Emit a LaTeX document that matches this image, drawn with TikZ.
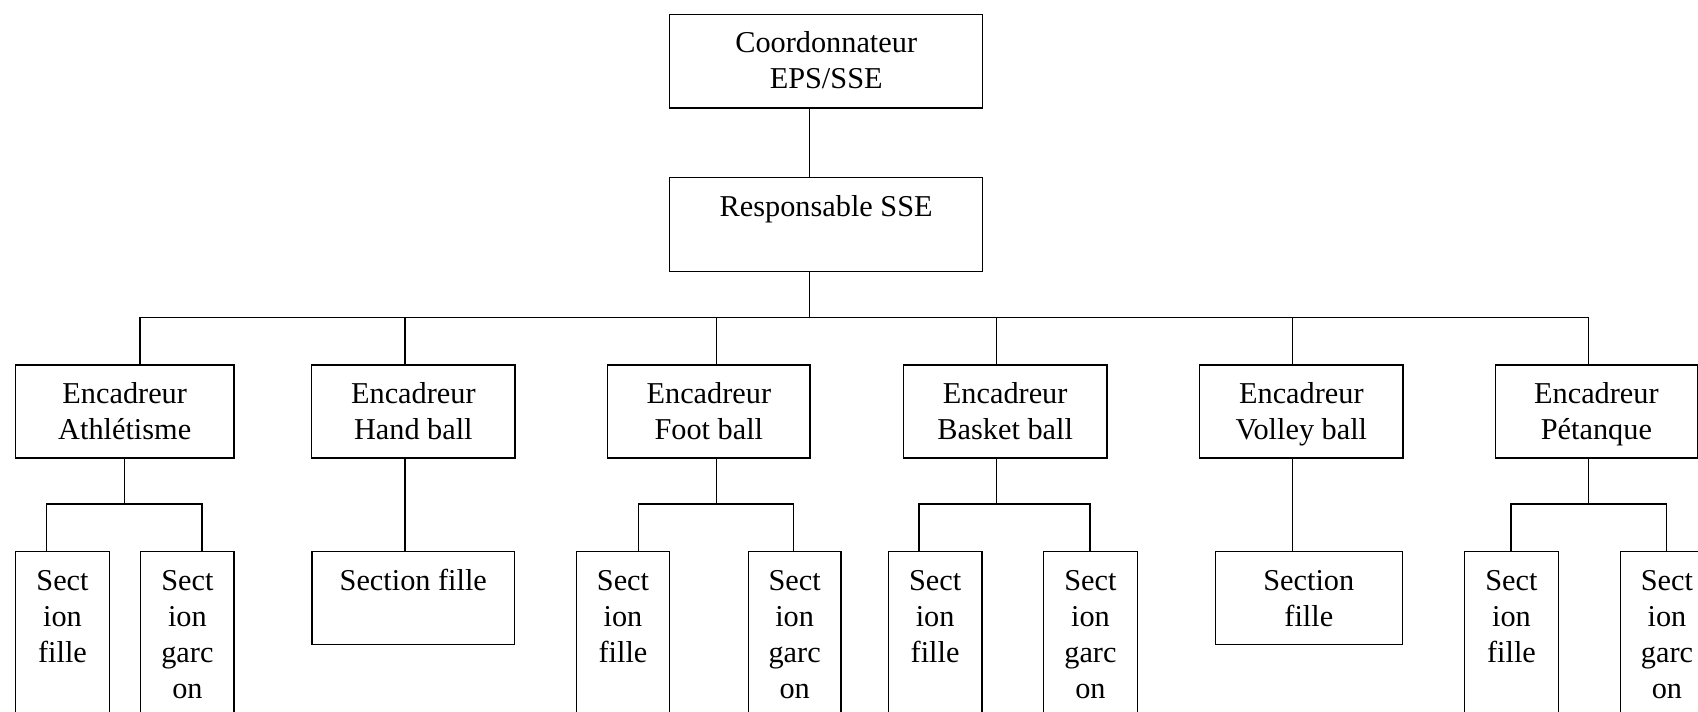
\documentclass[tikz,border=0pt]{standalone}
\usepackage{fontspec}
\setmainfont{Liberation Serif}

% text of a box: fixed width and height, lines centred, first baseline near the top
\newcommand\boxtxt[3]{\parbox[t][#2][t]{#1}{\centering\rule{0pt}{19.25pt}#3}}

\begin{document}
\begin{tikzpicture}[x=0.5pt,y=-0.5pt,
  orgbox/.style={draw=black, line width=0.7pt, inner sep=0pt, anchor=north west,
    font=\fontsize{15.15}{18}\selectfont},
  link/.style={draw=black, line width=0.7pt}]

\clip (0,0) rectangle (1698,712);
\fill[white] (0,0) rectangle (1698,712);

% top of the chart
\node[orgbox] (coord) at (669,13.7) {\boxtxt{156.5pt}{46.8pt}{Coordonnateur\\EPS/SSE}};
\node[orgbox] (resp)  at (669,177)  {\boxtxt{156.5pt}{46.85pt}{Responsable SSE}};

% one box per sport
\node[orgbox] (athl) at (14.7,364.3)  {\boxtxt{109.3pt}{46.5pt}{Encadreur\\Athlétisme}};
\node[orgbox] (hand) at (311,364.3)   {\boxtxt{101.65pt}{46.5pt}{Encadreur\\Hand ball}};
\node[orgbox] (foot) at (607,364.3)   {\boxtxt{101.15pt}{46.5pt}{Encadreur\\Foot ball}};
\node[orgbox] (bask) at (902.7,364.3) {\boxtxt{101.8pt}{46.5pt}{Encadreur\\Basket ball}};
\node[orgbox] (voll) at (1199,364.3)  {\boxtxt{101.65pt}{46.5pt}{Encadreur\\Volley ball}};
\node[orgbox] (peta) at (1494.7,364.3){\boxtxt{101pt}{46.5pt}{Encadreur\\Pétanque}};

% sections
\node[orgbox] (athlF) at (14.9,551)   {\boxtxt{46.9pt}{100pt}{Sect\\ion\\fille}};
\node[orgbox] (athlG) at (140,551)    {\boxtxt{46.7pt}{100pt}{Sect\\ion\\garc\\on}};
\node[orgbox] (handF) at (311.2,551)  {\boxtxt{101.4pt}{46.5pt}{Section fille}};
\node[orgbox] (footF) at (575.6,551)  {\boxtxt{46.7pt}{100pt}{Sect\\ion\\fille}};
\node[orgbox] (footG) at (747.6,551)  {\boxtxt{46.35pt}{100pt}{Sect\\ion\\garc\\on}};
\node[orgbox] (baskF) at (887.5,551)  {\boxtxt{46.9pt}{100pt}{Sect\\ion\\fille}};
\node[orgbox] (baskG) at (1043,551)   {\boxtxt{46.75pt}{100pt}{Sect\\ion\\garc\\on}};
\node[orgbox] (vollF) at (1214.5,551) {\boxtxt{93.6pt}{46.5pt}{Section\\fille}};
\node[orgbox] (petaF) at (1463.5,551) {\boxtxt{47.25pt}{100pt}{Sect\\ion\\fille}};
\node[orgbox] (petaG) at (1619.5,551) {\boxtxt{46.75pt}{100pt}{Sect\\ion\\garc\\on}};

% junction points
\coordinate (cx) at (809.7,317.3);
\coordinate (bA) at (140,317.3);
\coordinate (bH) at (405,317.3);
\coordinate (bF) at (716.3,317.3);
\coordinate (bB) at (996.7,317.3);
\coordinate (bV) at (1292.5,317.3);
\coordinate (bP) at (1588.6,317.3);

\coordinate (aM) at (124.3,504); \coordinate (aL) at (46.5,504);   \coordinate (aR) at (202.1,504);
\coordinate (fM) at (716.3,504); \coordinate (fL) at (638.2,504);  \coordinate (fR) at (793.7,504);
\coordinate (kM) at (996.7,504); \coordinate (kL) at (919.1,504);  \coordinate (kR) at (1090,504);
\coordinate (pM) at (1588.6,504);\coordinate (pL) at (1510.8,504); \coordinate (pR) at (1666.7,504);

% upper links
\draw[link] (coord.south -| cx) -- (resp.north -| cx);
\draw[link] (resp.south -| cx) -- (cx);
\draw[link] (bA) -- (bP);
\foreach \j/\n in {bA/athl, bH/hand, bF/foot, bB/bask, bV/voll, bP/peta}
  \draw[link] (\j) -- (\n.north -| \j);

% links to the sections
\draw[link] (athl.south -| aM) -- (aM);
\draw[link] (athlF.north -| aL) -- (aL) -- (aR) -- (athlG.north -| aR);
\draw[link] (hand.south -| bH) -- (handF.north -| bH);
\draw[link] (foot.south -| fM) -- (fM);
\draw[link] (footF.north -| fL) -- (fL) -- (fR) -- (footG.north -| fR);
\draw[link] (bask.south -| kM) -- (kM);
\draw[link] (baskF.north -| kL) -- (kL) -- (kR) -- (baskG.north -| kR);
\draw[link] (voll.south -| bV) -- (vollF.north -| bV);
\draw[link] (peta.south -| pM) -- (pM);
\draw[link] (petaF.north -| pL) -- (pL) -- (pR) -- (petaG.north -| pR);

\end{tikzpicture}
\end{document}
